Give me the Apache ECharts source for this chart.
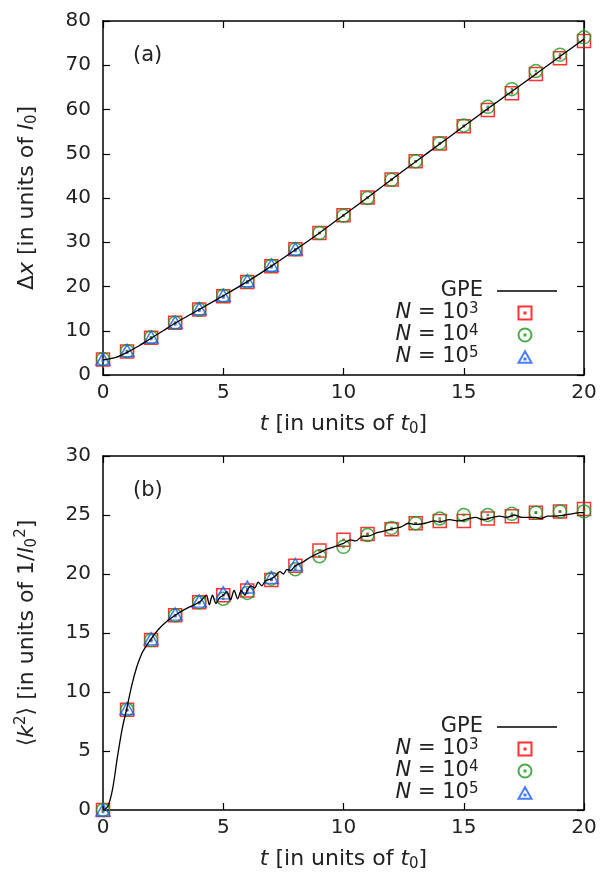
<!DOCTYPE html>
<html><head><meta charset="utf-8">
<script src="https://cdn.jsdelivr.net/npm/echarts@6/dist/echarts.min.js"></script>
<style>html,body{margin:0;padding:0;background:#fff}#c{width:613px;height:876px}</style>
</head><body><div id="c"></div>
<script>
// ---------- data ----------
const tMarks = [0,1,2,3,4,5,6,7,8,9,10,11,12,13,14,15,16,17,18,19,20];
const tTri   = [0,1,2,3,4,5,6,7,8];
const xTicks = [0,5,10,15,20];

// panel (a): Delta x
const n3A = [3.5,5.3,8.4,11.8,14.8,17.8,21.0,24.6,28.4,32.1,36.1,40.1,44.2,48.3,52.3,56.2,59.9,63.7,68.0,71.6,75.5];
const n4A = [3.6,5.4,8.5,11.8,14.8,17.9,21.1,24.7,28.4,32.1,36.0,40.0,44.1,48.3,52.4,56.4,60.6,64.6,68.7,72.4,76.3];
const n5A = [3.6,5.5,8.6,11.9,15.0,18.0,21.3,24.8,28.5];
const gpeTA = [0,0.5,1,1.5,2,2.5,3,4,5,6,7,8,9,10,11,12,13,14,15,16,17,18,19,20];
const gpeA  = [3.4,3.9,5.1,6.6,8.3,10.0,11.7,14.8,17.9,21.1,24.6,28.3,32.1,36.1,40.1,44.2,48.2,52.2,56.2,60.2,64.1,68.0,72.0,75.9];

// panel (b): <k^2>
const n3B = [0,8.5,14.4,16.5,17.6,18.2,18.6,19.5,20.7,22.0,22.9,23.4,23.8,24.3,24.5,24.5,24.7,24.9,25.2,25.3,25.5];
const n4B = [0,8.5,14.4,16.5,17.6,17.9,18.4,19.6,20.4,21.5,22.3,23.3,23.9,24.3,24.7,25.0,25.0,25.1,25.2,25.3,25.3];
const n5B = [0,8.6,14.5,16.6,17.7,18.4,18.9,19.7,20.8];
const gpeTB = [0,0.2,0.4,0.6,0.8,1.0,1.2,1.4,1.6,1.8,2.0,2.3,2.6,3.0,3.4,3.7,4.0,4.15,4.3,4.42,4.55,4.7,4.85,5.0,5.15,5.3,5.45,5.6,5.75,5.9,6.0,6.15,6.3,6.45,6.6,6.75,7.0,7.2,7.35,7.5,7.65,7.8,8.0,8.3,8.6,9.0,9.3,9.6,10.0,10.3,10.5,10.8,11.0,11.4,11.8,12.0,12.4,12.7,13.0,13.4,13.8,14.0,14.4,14.8,15.2,15.5,15.8,16.2,16.5,16.8,17.1,17.4,17.7,18.0,18.2,18.5,18.8,19.2,19.5,19.8,20.0];
const gpeB  = [0,0.3,1.8,4.5,6.9,8.7,10.6,12.1,13.2,13.9,14.5,15.3,15.9,16.5,17.0,17.3,17.6,17.9,18.2,17.4,18.2,17.5,18.0,18.2,18.5,17.8,18.6,17.9,18.6,18.2,18.6,19.0,18.8,19.3,19.0,19.4,19.6,19.9,20.2,20.0,20.4,20.3,20.7,21.0,21.4,21.8,22.1,22.3,22.6,22.9,22.8,23.2,23.2,23.5,23.7,23.8,24.0,24.3,24.2,24.3,24.5,24.4,24.6,24.5,24.7,24.8,24.6,24.8,24.9,24.8,25.0,24.8,24.8,24.8,24.7,24.9,24.9,25.0,25.1,25.2,25.2];

const legendLabels = {GPE:'{r|GPE}', N3:'{i|N}{r| = 10}{sup|3}', N4:'{i|N}{r| = 10}{sup|4}', N5:'{i|N}{r| = 10}{sup|5}'};

// ---------- styles ----------
const FF = 'DejaVu Sans';
const TXT = '#222';
const SQ = 'path://M0,0L10,0L10,10L0,10Z M4.6,4.6L5.4,4.6L5.4,5.4L4.6,5.4Z';
const CI = 'path://M10,5A5,5 0 1 1 0,5A5,5 0 1 1 10,5Z M4.6,4.6L5.4,4.6L5.4,5.4L4.6,5.4Z';
const TR = 'path://M5,0L10,8.66L0,8.66Z M4.6,5.4L5.4,5.4L5.4,6.2L4.6,6.2Z';
const RED = '#ff0000', GREEN = '#1e961e', BLUE = '#1a5cff';

const richName = {
  r:   {fontFamily: FF, fontSize: 22, color: TXT, lineHeight: 26},
  i:   {fontFamily: FF, fontSize: 22, color: TXT, fontStyle: 'italic', lineHeight: 26},
  sub: {fontFamily: FF, fontSize: 15, color: TXT, verticalAlign: 'bottom', lineHeight: 14},
  sup: {fontFamily: FF, fontSize: 15, color: TXT, verticalAlign: 'top', lineHeight: 14}
};
const richLeg = {
  r:   {fontFamily: FF, fontSize: 21, color: TXT, lineHeight: 22},
  i:   {fontFamily: FF, fontSize: 21, color: TXT, fontStyle: 'italic', lineHeight: 22},
  sup: {fontFamily: FF, fontSize: 15, color: TXT, verticalAlign: 'top', lineHeight: 12}
};

const grids = [
  {left: 103, top: 21, width: 481, height: 354},
  {left: 103, top: 456, width: 481, height: 354}
];

const axisLineS = {show: true, onZero: false, lineStyle: {color: '#000', width: 1.5}};
const tickS = {inside: true, length: 7, lineStyle: {color: '#000', width: 1.2}};
function xAxes(gi, nameStr) {
  return [
    {gridIndex: gi, type: 'value', min: 0, max: 20, interval: 5, position: 'bottom',
     axisLine: axisLineS, axisTick: tickS, splitLine: {show: false},
     axisLabel: {fontFamily: FF, fontSize: 20, color: TXT, margin: 8,
       formatter: v => xTicks.indexOf(v) >= 0 ? String(v) : ''},
     name: nameStr, nameLocation: 'middle', nameGap: 36,
     nameTextStyle: {fontFamily: FF, fontSize: 22, color: TXT, lineHeight: 26, rich: richName}},
    {gridIndex: gi, type: 'value', min: 0, max: 20, interval: 5, position: 'top',
     axisLine: axisLineS, axisTick: tickS, splitLine: {show: false}, axisLabel: {show: false}}
  ];
}
function yAxes(gi, maxV, step, nameStr) {
  return [
    {gridIndex: gi, type: 'value', min: 0, max: maxV, interval: step, position: 'left',
     axisLine: axisLineS, axisTick: tickS, splitLine: {show: false},
     axisLabel: {fontFamily: FF, fontSize: 20, color: TXT, margin: 12},
     name: nameStr, nameLocation: 'middle', nameGap: 63,
     nameTextStyle: {fontFamily: FF, fontSize: 22, color: TXT, lineHeight: 26, rich: richName}},
    {gridIndex: gi, type: 'value', min: 0, max: maxV, interval: step, position: 'right',
     axisLine: axisLineS, axisTick: tickS, splitLine: {show: false}, axisLabel: {show: false}}
  ];
}

const xTitle = '{i|t}{r| [in units of }{i|t}{sub|0}{r|]}';
const yTitleA = '{r|Δ}{i|x}{r| [in units of }{i|l}{sub|0}{r|]}';
const yTitleB = '{r|⟨}{i|k}{sup|2}{r|⟩ [in units of 1/}{i|l}{sub|0}{sup|2}{r|]}';

function pairs(xs, ys) { return ys.map((y, i) => [xs[i], y]); }

function panelSeries(gi, gpeT, gpeV, n3, n4, n5) {
  const xi = gi * 2, yi = gi * 2;
  const sc = (name, sym, size, col, data) => ({
    name, type: 'scatter', xAxisIndex: xi, yAxisIndex: yi, data, symbol: sym, symbolSize: size,
    clip: false, silent: true,
    itemStyle: {color: 'none', borderColor: col, borderWidth: 1.5}
  });
  return [
    sc('N3', SQ, 13, RED, pairs(tMarks, n3)),
    sc('N4', CI, 13, GREEN, pairs(tMarks, n4)),
    sc('N5', TR, [14, 12], BLUE, pairs(tTri, n5)),
    {name: 'GPE', type: 'line', xAxisIndex: xi, yAxisIndex: yi, data: pairs(gpeT, gpeV),
     symbol: 'none', smooth: 0.3, silent: true, z: 3,
     lineStyle: {color: '#000', width: 1.3}, itemStyle: {color: '#000'}}
  ];
}

function legends(topGPE, topN) {
  const base = {orient: 'vertical', align: 'right', padding: 0, itemGap: 0, selectedMode: false,
    formatter: n => legendLabels[n],
    textStyle: {fontFamily: FF, fontSize: 21, color: TXT, lineHeight: 22, rich: richLeg}};
  return [
    Object.assign({}, base, {data: [{name: 'GPE', icon: 'rect'}], right: 56, top: topGPE,
      itemWidth: 60, itemHeight: 1.3, itemStyle: {color: '#000', borderWidth: 0},
      textStyle: Object.assign({}, base.textStyle, {padding: [0, 9, 0, 0]})}),
    Object.assign({}, base, {data: ['N3', 'N4', 'N5'], right: 79, top: topN,
      itemWidth: 13, itemHeight: 13,
      textStyle: Object.assign({}, base.textStyle, {padding: [0, 35, 0, 0]})})
  ];
}

const option = {
  backgroundColor: '#fff',
  animation: false,
  grid: grids,
  xAxis: [...xAxes(0, xTitle), ...xAxes(1, xTitle)],
  yAxis: [...yAxes(0, 80, 10, yTitleA), ...yAxes(1, 30, 5, yTitleB)],
  legend: [...legends(280, 302), ...legends(716, 738)],
  graphic: [
    {type: 'text', left: 133, top: 45, style: {text: '(a)', font: '21px "DejaVu Sans"', fill: TXT}},
    {type: 'text', left: 133, top: 480, style: {text: '(b)', font: '21px "DejaVu Sans"', fill: TXT}}
  ],
  series: [
    ...panelSeries(0, gpeTA, gpeA, n3A, n4A, n5A),
    ...panelSeries(1, gpeTB, gpeB, n3B, n4B, n5B)
  ]
};

const chart = echarts.init(document.getElementById('c'), null, {renderer: 'canvas'});
chart.setOption(option);
</script>
</body></html>
